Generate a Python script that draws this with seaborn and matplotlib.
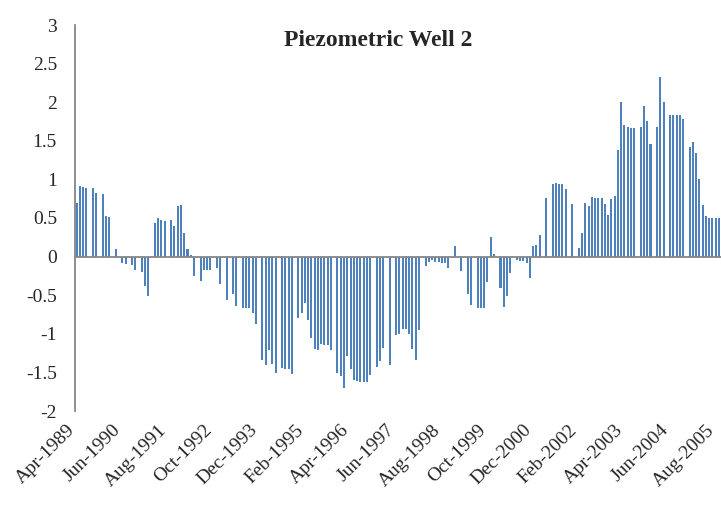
import numpy as np
import pandas as pd
import matplotlib
matplotlib.use("Agg")
import matplotlib.pyplot as plt
import matplotlib.transforms as mtransforms
import seaborn as sns

# monthly piezometric level (m), Apr-1989 .. Sep-2005, 0 = no reading
values = [
    0.70, 0.92, 0.90, 0.885, 0, 0.885, 0.82, 0, 0.81, 0.52,
    0.51, 0, 0.095, 0, -0.08, -0.095, 0, -0.11, -0.17, 0,
    -0.20, -0.38, -0.51, 0, 0.43, 0.50, 0.47, 0.46, 0, 0.47,
    0.39, 0.65, 0.665, 0.30, 0.095, 0.02, -0.25, 0, -0.315, -0.17,
    -0.17, -0.17, 0, -0.15, -0.35, 0, -0.56, 0, -0.48, -0.64,
    0, -0.665, -0.665, -0.665, -0.73, -0.87, 0, -1.34, -1.40, -1.21,
    -1.39, -1.51, 0, -1.44, -1.46, -1.46, -1.52, 0, -0.79, -0.73,
    -0.60, -0.82, -1.05, -1.20, -1.21, -1.13, -1.15, -1.15, -1.21, 0,
    -1.51, -1.55, -1.70, -1.29, -1.46, -1.60, -1.61, -1.62, -1.62, -1.62,
    -1.53, 0, -1.43, -1.35, -1.18, 0, -1.40, 0, -1.015, -1.00,
    -0.94, -0.94, -1.00, -1.20, -1.34, -0.95, 0, -0.12, -0.07, -0.045,
    -0.07, -0.07, -0.08, -0.08, -0.15, 0, 0.14, 0, -0.19, 0,
    -0.48, -0.63, 0, -0.665, -0.665, -0.665, -0.33, 0.26, 0.03, 0,
    -0.41, -0.65, -0.51, -0.21, 0, -0.045, -0.055, -0.055, -0.08, -0.275,
    0.135, 0.145, 0.275, 0, 0.755, 0, 0.94, 0.95, 0.94, 0.94,
    0.87, 0, 0.68, 0, 0.11, 0.30, 0.70, 0.65, 0.77, 0.755,
    0.755, 0.755, 0.68, 0.535, 0.745, 0.78, 1.38, 2.00, 1.70, 1.675,
    1.665, 1.665, 0, 1.675, 1.95, 1.755, 1.455, 0, 1.675, 2.32,
    2.00, 0, 1.83, 1.83, 1.83, 1.83, 1.78, 0, 1.42, 1.48,
    1.34, 1.00, 0.665, 0.52, 0.50, 0.50, 0.50, 0.50,
]
months = list(pd.date_range("1989-04-01", periods=len(values), freq="MS").strftime("%b-%Y"))
label_step = 14
y_ticks = [-2, -1.5, -1, -0.5, 0, 0.5, 1, 1.5, 2, 2.5, 3]
y_labels = ["-2", "-1.5", "-1", "-0.5", "0", "0.5", "1", "1.5", "2", "2.5", "3"]

df = pd.DataFrame({"month": months, "level": values})

sns.set_style("white")
plt.rcParams["font.family"] = ["Liberation Serif", "DejaVu Serif"]

fig = plt.figure(figsize=(7.21, 5.09), dpi=100)
ax = fig.add_axes([75 / 721, 1 - 411 / 509, 645.6 / 721, 386 / 509])

sns.barplot(data=df, x="month", y="level", order=months, color="#4F81BD",
            saturation=1, width=0.62, linewidth=0, ax=ax)

axis_grey = "#868686"
ax.axhline(0, color=axis_grey, lw=1.3, zorder=3)
ax.set_xlim(-0.5, len(values) - 0.5)
ax.set_ylim(-2, 3)

ax.set_yticks(y_ticks)
ax.set_yticklabels(y_labels, fontsize=14)
ax.tick_params(axis="y", direction="out", length=7, width=1.2, color=axis_grey, pad=6)

pos = list(range(0, len(values), label_step))
ax.set_xticks(pos)
ax.set_xticklabels([months[i] for i in pos], rotation=45, ha="right", va="center",
                   rotation_mode="anchor", fontsize=14)
ax.tick_params(axis="x", length=0, pad=12)
shift = mtransforms.ScaledTranslation(-4 / 100, 0, fig.dpi_scale_trans)
for lab in ax.get_xticklabels():
    lab.set_transform(lab.get_transform() + shift)

for s in ["top", "right", "bottom"]:
    ax.spines[s].set_visible(False)
ax.spines["left"].set_color(axis_grey)
ax.spines["left"].set_linewidth(1.3)

ax.set_xlabel("")
ax.set_ylabel("")

fig.text(378 / 721, 1 - 46 / 509, "Piezometric Well 2", ha="center", va="baseline",
         fontsize=17, fontweight="bold")

fig.savefig("out.png", dpi=100)
